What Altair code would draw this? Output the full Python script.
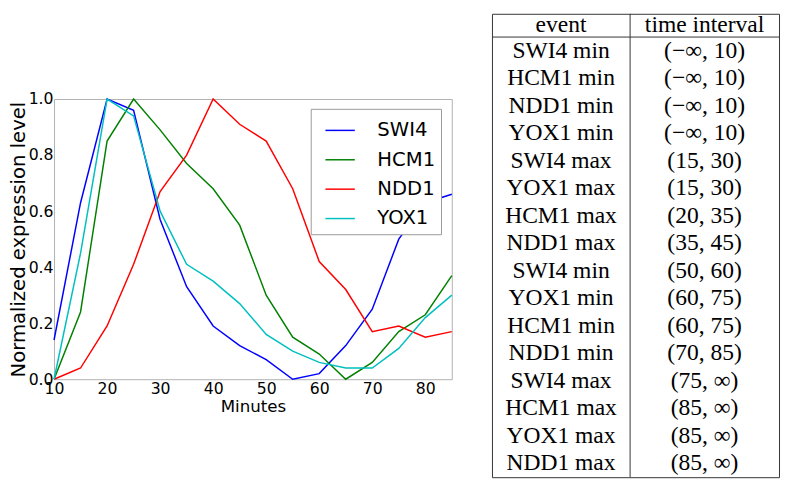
import altair as alt
import pandas as pd

# ---------------- data ----------------
minutes = [10, 15, 20, 25, 30, 35, 40, 45, 50, 55, 60, 65, 70, 75, 80, 85]
genes = ["SWI4", "HCM1", "NDD1", "YOX1"]
swi4 = [0.14, 0.63, 1.00, 0.96, 0.57, 0.33, 0.19, 0.12, 0.07, 0.00, 0.02, 0.12, 0.25, 0.50, 0.63, 0.66]
hcm1 = [0.00, 0.24, 0.85, 1.00, 0.89, 0.77, 0.68, 0.55, 0.30, 0.15, 0.09, 0.00, 0.06, 0.17, 0.23, 0.37]
ndd1 = [0.00, 0.04, 0.19, 0.41, 0.67, 0.80, 1.00, 0.91, 0.85, 0.68, 0.42, 0.32, 0.17, 0.19, 0.15, 0.17]
yox1 = [0.00, 0.45, 1.00, 0.94, 0.60, 0.41, 0.35, 0.27, 0.16, 0.10, 0.06, 0.04, 0.04, 0.11, 0.22, 0.30]
x_ticks = [10, 20, 30, 40, 50, 60, 70, 80]
y_ticks = [0.0, 0.2, 0.4, 0.6, 0.8, 1.0]

table_header = ["event", "time interval"]
events = ["SWI4 min", "HCM1 min", "NDD1 min", "YOX1 min", "SWI4 max", "YOX1 max",
          "HCM1 max", "NDD1 max", "SWI4 min", "YOX1 min", "HCM1 min", "NDD1 min",
          "SWI4 max", "HCM1 max", "YOX1 max", "NDD1 max"]
intervals = ["(−∞, 10)", "(−∞, 10)", "(−∞, 10)", "(−∞, 10)", "(15, 30)", "(15, 30)",
             "(20, 35)", "(35, 45)", "(50, 60)", "(60, 75)", "(60, 75)", "(70, 85)",
             "(75, ∞)", "(85, ∞)", "(85, ∞)", "(85, ∞)"]

# ---------------- styles / layout ----------------
colors = ["#0000ff", "#008000", "#ff0000", "#00bfbf"]
PLOT_W, PLOT_H = 406, 286
TOP_GAP = 77
TABLE_W, TABLE_H = 293, 473
COL1_W = 141
HEADER_ROWS = 0.845          # header row height, in data-row units
SANS = "DejaVu Sans"
SERIF = "Liberation Serif"

series = {"SWI4": swi4, "HCM1": hcm1, "NDD1": ndd1, "YOX1": yox1}
rows = []
for g in genes:
    for m, v in zip(minutes, series[g]):
        rows.append({"minute": m, "value": v, "gene": g})
df = pd.DataFrame(rows)

lines = alt.Chart(df).mark_line(strokeWidth=1.5).encode(
    x=alt.X("minute:Q",
            scale=alt.Scale(domain=[10, 85], nice=False, zero=False),
            axis=alt.Axis(title="Minutes", values=x_ticks, grid=False, domain=False,
                          ticks=False, tickSize=0, labelFlush=False, labelPadding=2,
                          titlePadding=2, labelFontSize=16, titleFontSize=17,
                          labelFont=SANS, titleFont=SANS, labelColor="black",
                          titleColor="black", titleFontWeight="normal")),
    y=alt.Y("value:Q",
            scale=alt.Scale(domain=[0, 1], nice=False),
            axis=alt.Axis(title="Normalized expression level", values=y_ticks,
                          format=".1f", grid=False, domain=False, ticks=False,
                          tickSize=0, labelPadding=1, titlePadding=0,
                          labelFontSize=16, titleFontSize=20, labelFont=SANS,
                          titleFont=SANS, labelColor="black", titleColor="black",
                          titleFontWeight="normal")),
    color=alt.Color("gene:N",
                    scale=alt.Scale(domain=genes, range=colors),
                    sort=genes,
                    legend=alt.Legend(title=None, orient="none", legendX=262, legendY=10,
                                      symbolType="stroke", symbolSize=900,
                                      symbolStrokeWidth=1.5, symbolOffset=8,
                                      labelFontSize=20,
                                      labelFont=SANS, labelColor="black",
                                      labelOffset=22, padding=6, rowPadding=4,
                                      strokeColor="#999999", fillColor="white",
                                      cornerRadius=0)),
).properties(width=PLOT_W, height=PLOT_H,
             view=alt.ViewBackground(stroke="#b0b0b0", strokeWidth=1))

spacer = alt.Chart(pd.DataFrame({"v": [0]})).mark_rule(opacity=0).encode(
    x=alt.value(0), y=alt.value(0), y2=alt.value(1)
).properties(width=PLOT_W, height=TOP_GAP,
             view=alt.ViewBackground(stroke="transparent"))

# ---------------- table ----------------
col_centers = [COL1_W / 2, (COL1_W + TABLE_W) / 2]
trows = []
for c, h in enumerate(table_header):
    trows.append({"cx": col_centers[c], "cy": -HEADER_ROWS / 2, "text": h})
for i, (e, t) in enumerate(zip(events, intervals)):
    trows.append({"cx": col_centers[0], "cy": i + 0.5, "text": e})
    trows.append({"cx": col_centers[1], "cy": i + 0.5, "text": t})
tdf = pd.DataFrame(trows)
n_rows = len(events)

xs = alt.Scale(domain=[0, TABLE_W], nice=False, zero=False)
ys = alt.Scale(domain=[-HEADER_ROWS, n_rows], nice=False, zero=False, reverse=True)

text = alt.Chart(tdf).mark_text(font=SERIF, fontSize=24, align="center",
                                baseline="middle", color="black").encode(
    x=alt.X("cx:Q", scale=xs, axis=None),
    y=alt.Y("cy:Q", scale=ys, axis=None),
    text="text:N",
)

vline = alt.Chart(pd.DataFrame({"x": [COL1_W], "y": [-HEADER_ROWS], "y2": [n_rows]})).mark_rule(
    color="#333333", strokeWidth=1).encode(
    x=alt.X("x:Q", scale=xs, axis=None),
    y=alt.Y("y:Q", scale=ys, axis=None), y2="y2:Q")

hline = alt.Chart(pd.DataFrame({"x": [0], "x2": [TABLE_W], "y": [0]})).mark_rule(
    color="#333333", strokeWidth=1).encode(
    x=alt.X("x:Q", scale=xs, axis=None), x2="x2:Q",
    y=alt.Y("y:Q", scale=ys, axis=None))

table = alt.layer(text, vline, hline).properties(
    width=TABLE_W, height=TABLE_H,
    view=alt.ViewBackground(stroke="#333333", strokeWidth=1))

left = alt.vconcat(spacer, lines, spacing=0).resolve_legend(color="independent")
chart = alt.hconcat(left, table, spacing=36).resolve_legend(
    color="independent").properties(padding=0, background="white")

chart.save("out.html", embed_options={"renderer": "svg", "actions": False})
